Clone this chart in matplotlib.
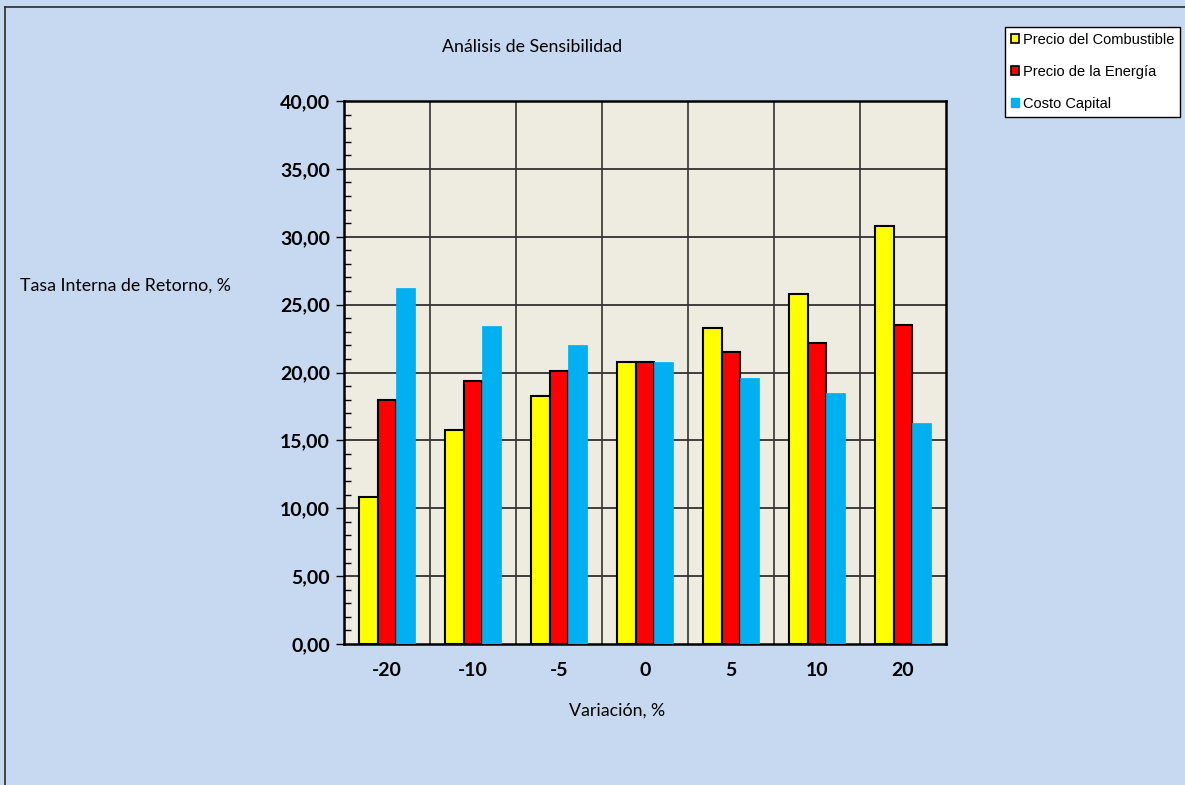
import numpy as np
import matplotlib
matplotlib.use("Agg")
import matplotlib.pyplot as plt
from matplotlib.ticker import MultipleLocator, FuncFormatter
from matplotlib.patches import Patch
from matplotlib.lines import Line2D

categorias = ["-20", "-10", "-5", "0", "5", "10", "20"]
combustible = [10.8, 15.8, 18.3, 20.8, 23.3, 25.8, 30.8]
energia = [18.0, 19.4, 20.1, 20.8, 21.5, 22.2, 23.5]
capital = [26.2, 23.4, 22.0, 20.8, 19.6, 18.5, 16.3]

fondo = "#C6D9F0"
fig = plt.figure(figsize=(11.85, 7.85), dpi=100, facecolor=fondo)

# borde superior e izquierdo del area del grafico
fig.add_artist(Line2D([5 / 1185, 1], [1 - 7 / 785, 1 - 7 / 785], color="#2b2b2b", lw=1.2,
                      transform=fig.transFigure))
fig.add_artist(Line2D([5 / 1185, 5 / 1185], [0, 1 - 7 / 785], color="#2b2b2b", lw=1.2,
                      transform=fig.transFigure))

ax = fig.add_axes([0.2903, 0.1796, 0.5080, 0.6917])
ax.set_facecolor("#EEEBE0")

x = np.arange(len(categorias))
w = 0.22
ax.bar(x - w, combustible, w, color="#FFFF00", edgecolor="black", linewidth=1.5, zorder=3)
ax.bar(x, energia, w, color="#FF0000", edgecolor="black", linewidth=1.5, zorder=3)
ax.bar(x + w, capital, w, color="#00B0F0", edgecolor="#00B0F0", linewidth=0.5, zorder=3)

ax.set_xlim(-0.5, len(categorias) - 0.5)
ax.set_ylim(0, 40)

# cuadricula: horizontales cada 5, verticales entre categorias
for yv in range(5, 40, 5):
    ax.axhline(yv, color="#222222", lw=1.2, zorder=1)
for xv in np.arange(0.5, len(categorias) - 0.5, 1):
    ax.axvline(xv, color="#333333", lw=1.2, zorder=1)

for s in ax.spines.values():
    s.set_linewidth(1.8)
    s.set_color("black")

ax.set_xticks(x)
ax.set_xticklabels(categorias)
ax.tick_params(axis="x", length=0, pad=13)
ax.yaxis.set_major_locator(MultipleLocator(5))
ax.yaxis.set_minor_locator(MultipleLocator(1))
ax.yaxis.set_major_formatter(FuncFormatter(lambda v, p: f"{v:.2f}".replace(".", ",")))
ax.tick_params(axis="y", which="major", direction="out", length=6, width=1, pad=4)
ax.tick_params(axis="y", which="minor", direction="in", length=5, width=1)
for lbl in ax.get_xticklabels() + ax.get_yticklabels():
    lbl.set_fontfamily("Lato")
    lbl.set_fontweight("bold")
    lbl.set_fontsize(14)

fig.text(0.449, 0.940, "Análisis de Sensibilidad", ha="center", va="center",
         fontsize=12.8, family="Lato")
fig.text(0.017, 0.636, "Tasa Interna de Retorno, %", ha="left", va="center",
         fontsize=12.8, family="Lato")
fig.text(0.521, 0.095, "Variación, %", ha="center", va="center",
         fontsize=12.8, family="Lato")

handles = [
    Patch(facecolor="#FFFF00", edgecolor="black", linewidth=1.2, label="Precio del Combustible"),
    Patch(facecolor="#FF0000", edgecolor="black", linewidth=1.2, label="Precio de la Energía"),
    Patch(facecolor="#00B0F0", edgecolor="#00B0F0", label="Costo Capital"),
]
leg = fig.legend(handles=handles, loc="upper right", bbox_to_anchor=(0.996, 0.966),
                 frameon=True, fancybox=False, edgecolor="black", facecolor="white",
                 framealpha=1, prop={"family": "Liberation Sans", "size": 10.5},
                 handlelength=0.6, handleheight=0.6, handletextpad=0.25,
                 labelspacing=1.25, borderpad=0.4, borderaxespad=0)
leg.get_frame().set_linewidth(1.0)

fig.savefig("out.png", dpi=100, facecolor=fondo)
